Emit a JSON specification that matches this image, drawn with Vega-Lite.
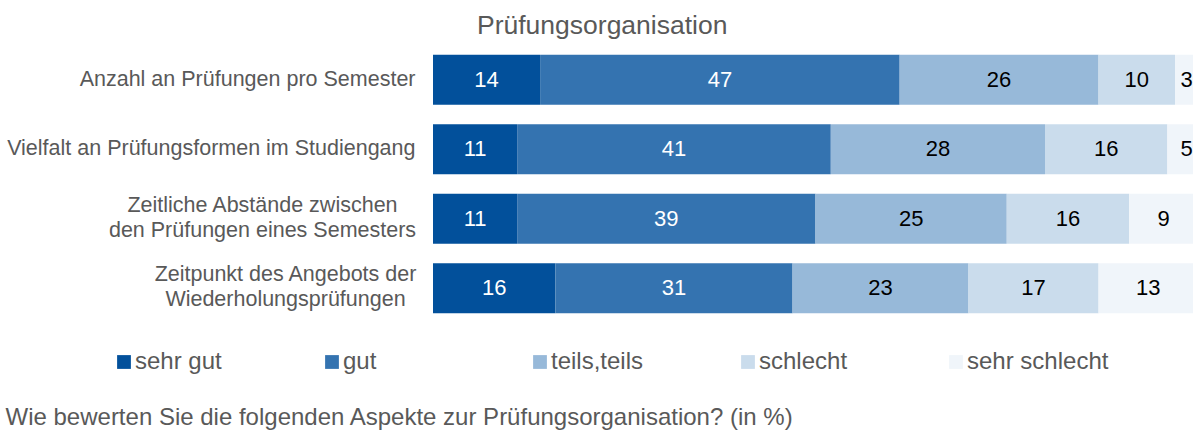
{
  "$schema": "https://vega.github.io/schema/vega-lite/v6.json",
  "autosize": {"type": "none"},
  "width": 765,
  "height": 278,
  "padding": {"left": 433, "top": 45, "right": 0, "bottom": 107},
  "background": "white",
  "config": {
    "font": "Liberation Sans",
    "view": {"stroke": null}
  },
  "title": {
    "text": "Prüfungsorganisation",
    "anchor": "start",
    "frame": "group",
    "dx": 44,
    "offset": 6,
    "fontSize": 26.5,
    "fontWeight": "normal",
    "color": "#595959"
  },
  "data": {
    "values": [
      {"item": "Anzahl an Prüfungen pro Semester", "cat": "sehr gut", "k": 1, "value": 14},
      {"item": "Anzahl an Prüfungen pro Semester", "cat": "gut", "k": 2, "value": 47},
      {"item": "Anzahl an Prüfungen pro Semester", "cat": "teils,teils", "k": 3, "value": 26},
      {"item": "Anzahl an Prüfungen pro Semester", "cat": "schlecht", "k": 4, "value": 10},
      {"item": "Anzahl an Prüfungen pro Semester", "cat": "sehr schlecht", "k": 5, "value": 3},
      {"item": "Vielfalt an Prüfungsformen im Studiengang", "cat": "sehr gut", "k": 1, "value": 11},
      {"item": "Vielfalt an Prüfungsformen im Studiengang", "cat": "gut", "k": 2, "value": 41},
      {"item": "Vielfalt an Prüfungsformen im Studiengang", "cat": "teils,teils", "k": 3, "value": 28},
      {"item": "Vielfalt an Prüfungsformen im Studiengang", "cat": "schlecht", "k": 4, "value": 16},
      {"item": "Vielfalt an Prüfungsformen im Studiengang", "cat": "sehr schlecht", "k": 5, "value": 5},
      {"item": "Zeitliche Abstände zwischen|den Prüfungen eines Semesters", "cat": "sehr gut", "k": 1, "value": 11},
      {"item": "Zeitliche Abstände zwischen|den Prüfungen eines Semesters", "cat": "gut", "k": 2, "value": 39},
      {"item": "Zeitliche Abstände zwischen|den Prüfungen eines Semesters", "cat": "teils,teils", "k": 3, "value": 25},
      {"item": "Zeitliche Abstände zwischen|den Prüfungen eines Semesters", "cat": "schlecht", "k": 4, "value": 16},
      {"item": "Zeitliche Abstände zwischen|den Prüfungen eines Semesters", "cat": "sehr schlecht", "k": 5, "value": 9},
      {"item": "Zeitpunkt des Angebots der|Wiederholungsprüfungen", "cat": "sehr gut", "k": 1, "value": 16},
      {"item": "Zeitpunkt des Angebots der|Wiederholungsprüfungen", "cat": "gut", "k": 2, "value": 31},
      {"item": "Zeitpunkt des Angebots der|Wiederholungsprüfungen", "cat": "teils,teils", "k": 3, "value": 23},
      {"item": "Zeitpunkt des Angebots der|Wiederholungsprüfungen", "cat": "schlecht", "k": 4, "value": 17},
      {"item": "Zeitpunkt des Angebots der|Wiederholungsprüfungen", "cat": "sehr schlecht", "k": 5, "value": 13}
    ]
  },
  "transform": [
    {"stack": "value", "groupby": ["item"], "sort": [{"field": "k", "order": "ascending"}], "as": ["x0", "x1"]},
    {"calculate": "(datum.x0 + datum.x1) / 2", "as": "mid"}
  ],
  "encoding": {
    "y": {
      "field": "item",
      "type": "nominal",
      "sort": null,
      "scale": {"paddingInner": 0.28, "paddingOuter": 0.14},
      "axis": {
        "title": null,
        "domain": false,
        "ticks": false,
        "labelExpr": "split(datum.label, '|')",
        "labelFontSize": 21.5,
        "labelColor": "#595959",
        "labelLimit": 450,
        "labelLineHeight": 25,
        "labelAlign": {"condition": {"test": "indexof(datum.value, '|') >= 0", "value": "center"}, "value": "right"},
        "labelPadding": {"condition": [
          {"test": "indexof(datum.value, 'Zeitliche') >= 0", "value": 171},
          {"test": "indexof(datum.value, 'Zeitpunkt') >= 0", "value": 148}
        ], "value": 18},
        "labelOffset": {"condition": {"test": "indexof(datum.value, '|') >= 0", "value": -13}, "value": 0}
      }
    }
  },
  "layer": [
    {
      "mark": {"type": "bar"},
      "encoding": {
        "x": {
          "field": "x0",
          "type": "quantitative",
          "scale": {"domain": [0, 100], "nice": false, "zero": true},
          "axis": {
            "title": "Wie bewerten Sie die folgenden Aspekte zur Prüfungsorganisation? (in %)",
            "domain": false,
            "ticks": false,
            "labels": false,
            "grid": false,
            "titleX": -428,
            "titleY": 94,
            "titleAlign": "left",
            "titleAnchor": null,
            "titleBaseline": "middle",
            "titleFontSize": 24,
            "titleFontWeight": "normal",
            "titleColor": "#595959"
          }
        },
        "x2": {"field": "x1"},
        "color": {
          "field": "cat",
          "type": "nominal",
          "scale": {
            "domain": ["sehr gut", "gut", "teils,teils", "schlecht", "sehr schlecht"],
            "range": ["#02509B", "#3473B0", "#97B9D9", "#CADCEC", "#F0F5FA"]
          },
          "legend": {
            "title": null,
            "orient": "none",
            "direction": "horizontal",
            "columns": 5,
            "gridAlign": "all",
            "legendX": -321,
            "legendY": 305,
            "symbolType": "square",
            "symbolSize": 190,
            "symbolStrokeWidth": 0,
            "labelFontSize": 24,
            "labelColor": "#595959",
            "labelOffset": -1,
            "columnPadding": 43,
            "labelLimit": 300
          }
        }
      }
    },
    {
      "mark": {"type": "text", "fontSize": 22, "baseline": "middle", "align": "center"},
      "encoding": {
        "x": {"field": "mid", "type": "quantitative"},
        "text": {"field": "value", "type": "quantitative"},
        "color": {
          "condition": {"test": "datum.k <= 2", "value": "white"},
          "value": "black"
        }
      }
    }
  ]
}
